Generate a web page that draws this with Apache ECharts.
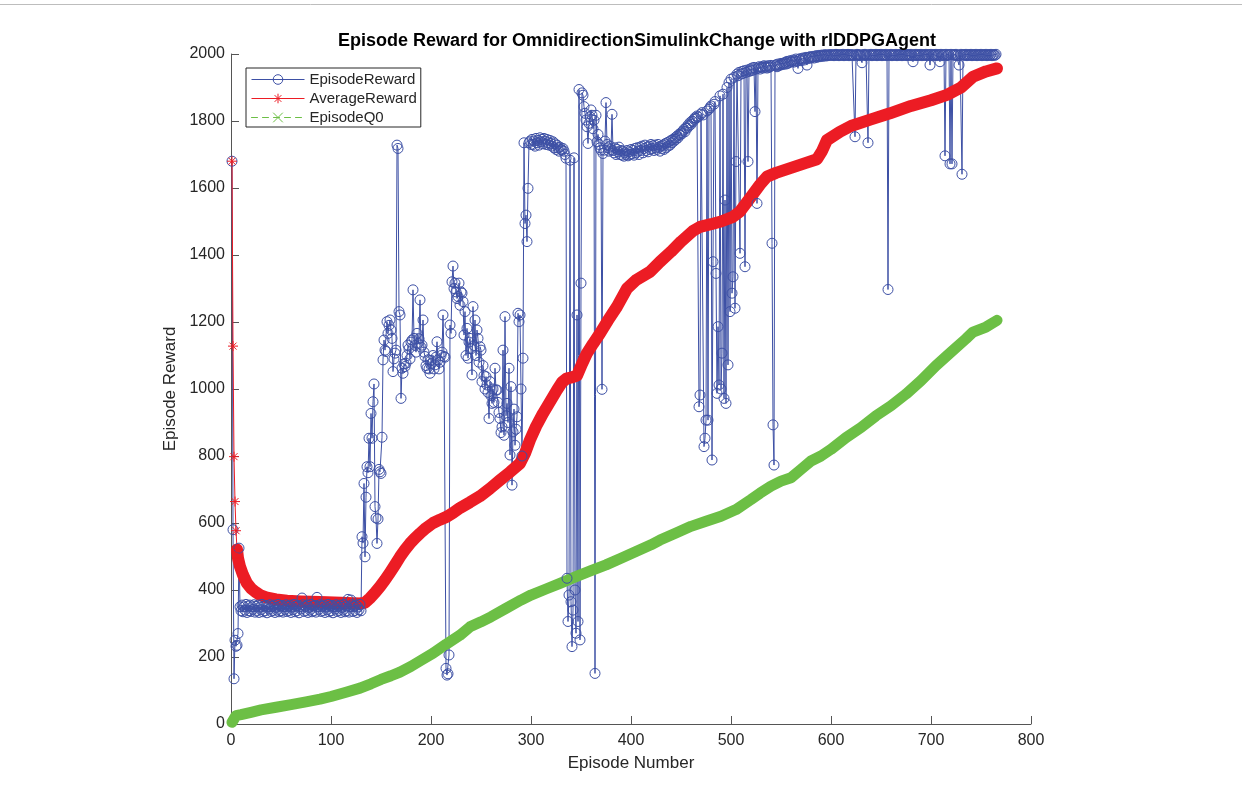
<!DOCTYPE html>
<html>
<head>
<meta charset="utf-8">
<script src="https://cdn.jsdelivr.net/npm/echarts@6/dist/echarts.min.js"></script>
<style>html,body{margin:0;padding:0;background:#fff;}#c{width:1242px;height:789px;}</style>
</head>
<body>
<div id="c"></div>
<script>
// ---- Data ----
const xTicks = [0, 100, 200, 300, 400, 500, 600, 700, 800];
const yTicks = [0, 200, 400, 600, 800, 1000, 1200, 1400, 1600, 1800, 2000];

// EpisodeReward, one value per episode (episode 1 .. 765)
const episodeReward = [
1680, 580, 135, 250, 232, 235, 270, 525, 350, 338,
355, 335, 350, 340, 357, 333, 352, 338, 355, 336,
350, 342, 356, 334, 351, 339, 355, 333, 349, 341,
357, 335, 352, 338, 354, 332, 350, 343, 356, 336,
351, 339, 355, 333, 348, 340, 357, 335, 352, 338,
354, 334, 350, 342, 356, 336, 351, 339, 355, 333,
349, 341, 357, 335, 352, 338, 354, 332, 350, 343,
376, 356, 336, 351, 339, 355, 333, 348, 340, 357,
335, 352, 338, 354, 334, 378, 350, 342, 356, 336,
351, 339, 355, 333, 349, 341, 357, 335, 352, 338,
354, 332, 350, 343, 356, 336, 351, 339, 355, 333,
348, 340, 357, 335, 352, 338, 372, 334, 350, 370,
356, 336, 351, 339, 355, 333, 349, 341, 357, 338,
559, 540, 718, 499, 677, 768, 750, 853, 768, 927,
853, 962, 1015, 649, 615, 539, 612, 760, 753, 748,
856, 1087, 1146, 1116, 1112, 1201, 1166, 1190, 1206, 1176,
1151, 1052, 1090, 1107, 1116, 1728, 1718, 1231, 1221, 972,
1062, 1047, 1075, 1067, 1077, 1100, 1131, 1120, 1090, 1140,
1146, 1296, 1151, 1130, 1110, 1166, 1136, 1150, 1266, 1125,
1131, 1206, 1110, 1097, 1070, 1062, 1087, 1060, 1047, 1085,
1077, 1100, 1060, 1072, 1095, 1141, 1087, 1060, 1080, 1100,
1110, 1221, 1097, 1095, 166, 146, 150, 206, 1191, 1166,
1320, 1367, 1300, 1316, 1290, 1270, 1276, 1316, 1250, 1290,
1286, 1261, 1161, 1231, 1100, 1181, 1092, 1140, 1151, 1120,
1042, 1246, 1130, 1206, 1100, 1176, 1151, 1080, 1126, 1116,
1022, 1070, 1040, 1000, 1037, 1012, 990, 912, 1022, 980,
957, 1000, 960, 1062, 997, 997, 960, 930, 912, 870,
887, 1116, 862, 1216, 920, 957, 900, 1062, 803, 1007,
713, 872, 940, 832, 880, 917, 1226, 1201, 1221, 1000,
800, 1092, 1735, 1494, 1519, 1440, 1599, 1735, 1740, 1730,
1745, 1730, 1740, 1725, 1748, 1735, 1742, 1728, 1750, 1738,
1745, 1732, 1748, 1740, 1730, 1745, 1735, 1728, 1742, 1733,
1725, 1738, 1720, 1732, 1715, 1728, 1720, 1710, 1722, 1715,
1713, 1718, 1710, 1700, 1689, 435, 306, 385, 1683, 365,
231, 340, 1690, 400, 271, 1221, 306, 1894, 251, 1316,
1884, 1877, 1843, 1823, 1803, 1783, 1733, 1793, 1813, 1833,
1817, 1777, 1802, 151, 1817, 1738, 1760, 1730, 1720, 1713,
999, 1703, 1713, 1740, 1855, 1730, 1720, 1710, 1725, 1715,
1820, 1712, 1705, 1720, 1700, 1715, 1708, 1722, 1700, 1712,
1698, 1710, 1695, 1705, 1700, 1712, 1696, 1708, 1700, 1715,
1702, 1712, 1698, 1718, 1705, 1720, 1710, 1700, 1722, 1712,
1725, 1705, 1718, 1728, 1712, 1722, 1708, 1725, 1715, 1730,
1718, 1726, 1712, 1728, 1720, 1715, 1730, 1722, 1710, 1725,
1718, 1728, 1715, 1732, 1720, 1735, 1725, 1738, 1728, 1742,
1735, 1745, 1740, 1750, 1745, 1755, 1750, 1760, 1758, 1765,
1762, 1770, 1775, 1768, 1780, 1778, 1788, 1785, 1795, 1790,
1800, 1798, 1805, 1810, 1808, 1815, 1812, 947, 982, 1820,
1825, 1818, 828, 853, 907, 1830, 907, 1835, 1840, 1845,
788, 1380, 1850, 1858, 1345, 987, 1186, 1012, 1875, 1000,
1107, 1880, 972, 1564, 957, 1900, 1072, 1915, 1231, 1925,
1286, 1335, 1930, 1241, 1679, 1940, 1935, 1945, 1405, 1940,
1948, 1942, 1950, 1365, 1945, 1952, 1679, 1948, 1955, 1950,
1958, 1952, 1960, 1828, 1955, 1554, 1958, 1962, 1955, 1960,
1962, 1958, 1965, 1960, 1963, 1958, 1965, 1960, 1962, 1966,
1435, 893, 773, 1965, 1968, 1962, 1970, 1965, 1968, 1972,
1968, 1972, 1970, 1975, 1970, 1978, 1972, 1975, 1980, 1976,
1978, 1982, 1976, 1980, 1985, 1978, 1957, 1983, 1986, 1980,
1985, 1988, 1982, 1987, 1990, 1967, 1986, 1990, 1992, 1988,
1990, 1993, 1988, 1992, 1995, 1990, 1993, 1996, 1992, 1995,
1997, 1993, 1996, 1998, 1994, 1997, 1995, 1998, 1996, 1998,
1996, 1998, 1995, 1997, 1999, 1996, 1998, 1995, 1997, 1998,
1996, 1999, 1995, 1997, 1998, 1996, 1999, 1995, 1997, 1998,
1996, 1998, 1995, 1753, 1997, 1999, 1996, 1998, 1995, 1997,
1974, 1998, 1996, 1999, 1995, 1997, 1735, 1998, 1996, 1999,
1995, 1997, 1998, 1996, 1999, 1995, 1997, 1998, 1996, 1999,
1995, 1997, 1998, 1996, 1999, 1995, 1297, 1998, 1996, 1999,
1995, 1997, 1998, 1996, 1999, 1995, 1997, 1998, 1996, 1999,
1995, 1997, 1998, 1996, 1999, 1995, 1997, 1998, 1996, 1999,
1995, 1977, 1998, 1996, 1999, 1995, 1997, 1998, 1996, 1999,
1995, 1997, 1998, 1996, 1999, 1995, 1997, 1998, 1967, 1999,
1995, 1997, 1998, 1996, 1999, 1995, 1997, 1998, 1977, 1999,
1995, 1997, 1998, 1696, 1999, 1995, 1997, 1998, 1672, 1999,
1672, 1997, 1998, 1996, 1999, 1995, 1997, 1967, 1996, 1999,
1641, 1997, 1998, 1996, 1999, 1995, 1997, 1998, 1996, 1999,
1995, 1997, 1998, 1996, 1999, 1995, 1997, 1998, 1996, 1999,
1995, 1997, 1998, 1996, 1999, 1995, 1997, 1998, 1996, 1999,
1995, 1997, 1998, 1996, 1999
];

// AverageReward, sampled episodes and values
const avgEpisodes = [1, 2, 3, 4, 5, 6, 7, 9, 12, 16, 20, 25, 29, 35, 45, 56, 70, 89, 110, 129,
  134, 139, 144, 149, 154, 159, 164, 169, 174, 179, 184, 189, 195, 202, 209, 216, 222, 229, 239, 249,
  259, 269, 279, 289, 294, 299, 305, 312, 319, 326, 331, 336, 341, 346, 351, 356, 362, 369, 377, 386,
  396, 405, 419, 429, 440, 450, 462, 469, 480, 490, 502, 509, 519, 529, 536, 545, 560, 575, 586, 591,
  596, 609, 620, 640, 659, 680, 700, 716, 730, 742, 755, 766];
const avgValues = [1680, 1128, 798, 664, 577, 521, 495, 470, 445, 420, 405, 393, 385, 378, 372, 368, 366, 364, 362, 360,
  362, 376, 392, 410, 430, 452, 475, 499, 520, 539, 555, 569, 585, 600, 610, 619, 630, 645, 662, 680,
  703, 728, 752, 778, 808, 848, 888, 927, 962, 997, 1020, 1032, 1035, 1040, 1075, 1107, 1135, 1166, 1205, 1246,
  1300, 1325, 1350, 1380, 1410, 1440, 1472, 1484, 1492, 1500, 1514, 1530, 1570, 1610, 1634, 1645, 1660, 1675, 1686, 1710,
  1743, 1768, 1785, 1805, 1823, 1845, 1862, 1878, 1900, 1932, 1948, 1957];

// EpisodeQ0, sampled episodes and values
const q0Episodes = [1, 3, 5, 10, 20, 30, 45, 60, 75, 89, 100, 115, 129, 140, 150, 160, 169, 180, 190, 202,
  215, 229, 239, 250, 260, 275, 290, 300, 315, 329, 345, 360, 375, 390, 405, 420, 429, 445, 460, 475,
  490, 505, 520, 529, 540, 550, 560, 570, 580, 590, 600, 615, 630, 645, 660, 675, 690, 705, 720, 735,
  742, 755, 766];
const q0Values = [5, 10, 25, 28, 35, 42, 50, 58, 66, 74, 82, 95, 107, 120, 133, 144, 155, 172, 190, 211,
  238, 265, 290, 305, 320, 345, 370, 385, 403, 420, 440, 458, 475, 495, 515, 535, 549, 570, 590, 605,
  620, 640, 670, 689, 710, 725, 735, 760, 785, 800, 820, 855, 885, 920, 950, 985, 1025, 1070, 1110, 1150,
  1170, 1185, 1205];

// ---- Build series data ----
const rewardData = episodeReward.map((v, i) => [i + 1, v]);
const avgData = avgEpisodes.map((e, i) => [e, avgValues[i]]);
const q0Data = q0Episodes.map((e, i) => [e, q0Values[i]]);
const avgHead = avgData.slice(0, 7);
const avgBand = avgData.slice(5);

const BLUE = '#3D50A5';
const RED = '#EC1C24';
const GREEN = '#6CBF45';
const AX = '#555555';
const TXT = '#262626';
const FONT = '"Liberation Sans", Arial, Helvetica, sans-serif';

const starPath = 'path://M5,0 L5,10 M0,5 L10,5 M1.5,1.5 L8.5,8.5 M8.5,1.5 L1.5,8.5';
const xPath = 'path://M0,0 L10,10 M10,0 L0,10';

const chart = echarts.init(document.getElementById('c'), null, {renderer: 'canvas'});
chart.setOption({
  animation: false,
  backgroundColor: '#fff',
  title: {
    text: 'Episode Reward for OmnidirectionSimulinkChange with rlDDPGAgent',
    left: 632, top: 27, textAlign: 'center',
    textStyle: {fontFamily: FONT, fontSize: 18, fontWeight: 'bold', color: '#000'}
  },
  grid: {left: 231, right: 211, top: 54, bottom: 65, containLabel: false},
  legend: {
    orient: 'vertical', left: 246, top: 68,
    itemWidth: 53, itemHeight: 12, itemGap: 4,
    padding: [4, 4, 2, 5],
    borderColor: '#262626', borderWidth: 1, backgroundColor: '#fff',
    textStyle: {fontFamily: FONT, fontSize: 15, color: TXT, lineHeight: 15},
    data: [
      {name: 'EpisodeReward', lineStyle: {width: 1, color: BLUE},
        itemStyle: {color: 'rgba(0,0,0,0)', borderColor: BLUE, borderWidth: 1}},
      {name: 'AverageReward', lineStyle: {width: 1, color: RED},
        itemStyle: {color: 'rgba(0,0,0,0)', borderColor: RED, borderWidth: 1}},
      {name: 'EpisodeQ0', lineStyle: {width: 1, color: GREEN, type: [6, 5]},
        itemStyle: {color: 'rgba(0,0,0,0)', borderColor: GREEN, borderWidth: 1}}
    ]
  },
  xAxis: {
    type: 'value', min: 0, max: 800, interval: 100,
    name: 'Episode Number', nameLocation: 'middle', nameGap: 31,
    nameTextStyle: {fontFamily: FONT, fontSize: 17, color: TXT},
    axisLine: {show: true, lineStyle: {color: AX, width: 1}},
    axisTick: {show: true, inside: true, length: 8, lineStyle: {color: AX}},
    axisLabel: {fontFamily: FONT, fontSize: 16, color: TXT, margin: 9,
      formatter: v => xTicks.includes(v) ? String(v) : ''},
    splitLine: {show: false}
  },
  yAxis: {
    type: 'value', min: 0, max: 2000, interval: 200,
    name: 'Episode Reward', nameLocation: 'middle', nameGap: 40, nameRotate: 90,
    nameTextStyle: {fontFamily: FONT, fontSize: 17, color: TXT},
    axisLine: {show: true, lineStyle: {color: AX, width: 1}},
    axisTick: {show: true, inside: true, length: 8, lineStyle: {color: AX}},
    axisLabel: {fontFamily: FONT, fontSize: 16, color: TXT, margin: 6,
      formatter: v => yTicks.includes(v) ? String(v) : ''},
    splitLine: {show: false}
  },
  series: [
    {
      name: 'EpisodeReward', type: 'line', data: rewardData, clip: false,
      symbol: 'circle', symbolSize: 10, showSymbol: true,
      lineStyle: {color: BLUE, width: 1},
      itemStyle: {color: 'rgba(0,0,0,0)', borderColor: BLUE, borderWidth: 1},
      emphasis: {disabled: true}
    },
    {
      name: 'AverageReward', type: 'line', data: avgHead, clip: false,
      symbol: starPath, symbolSize: 10, showSymbol: true,
      lineStyle: {color: RED, width: 1},
      itemStyle: {color: 'rgba(0,0,0,0)', borderColor: RED, borderWidth: 1},
      emphasis: {disabled: true}
    },
    {
      name: 'AverageReward', type: 'line', data: avgBand, clip: false,
      symbol: 'none', showSymbol: false,
      lineStyle: {color: RED, width: 12, cap: 'round', join: 'round'},
      itemStyle: {color: RED},
      emphasis: {disabled: true}
    },
    {
      name: 'EpisodeQ0', type: 'line', data: q0Data, clip: false,
      symbol: xPath, symbolSize: 9, showSymbol: false,
      lineStyle: {color: GREEN, width: 11, cap: 'round', join: 'round'},
      itemStyle: {color: 'rgba(0,0,0,0)', borderColor: GREEN, borderWidth: 1},
      emphasis: {disabled: true}
    }
  ],
  graphic: [
    {type: 'line', shape: {x1: 0, y1: 4.5, x2: 1242, y2: 4.5}, style: {stroke: '#bdbdbd', lineWidth: 1}, silent: true}
  ]
});
</script>
</body>
</html>
